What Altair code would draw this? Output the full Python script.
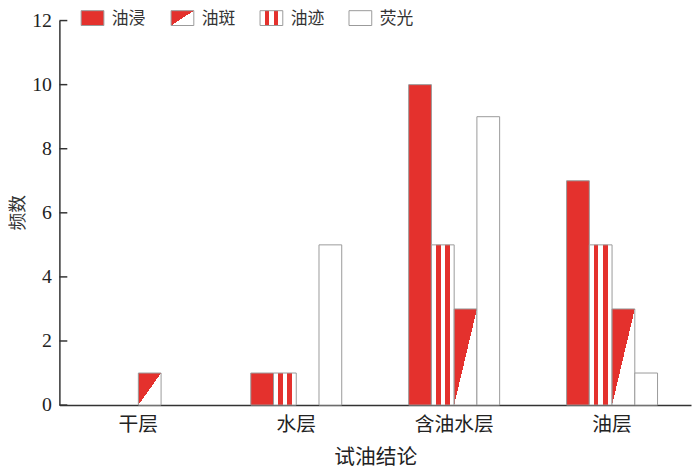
import altair as alt
import pandas as pd

categories = ["干层", "水层", "含油水层", "油层"]
series_legend = ["油浸", "油斑", "油迹", "荧光"]
series_order = ["油浸", "油迹", "油斑", "荧光"]  # order of bars inside each group
vals_youjin = [0, 1, 10, 7]
vals_youban = [1, 0, 3, 3]
vals_youji = [0, 1, 5, 5]
vals_yingguang = [0, 5, 9, 1]
y_ticks = [0, 2, 4, 6, 8, 10, 12]

RED = "#e4312d"
STROKE = "#9a9a9a"
FONT = "Liberation Serif, Noto Sans CJK SC"

series_values = {
    "油浸": vals_youjin,
    "油斑": vals_youban,
    "油迹": vals_youji,
    "荧光": vals_yingguang,
}
rows = []
for s, vs in series_values.items():
    for c, v in zip(categories, vs):
        rows.append({"cat": c, "series": s, "value": v})
df = pd.DataFrame(rows)

fills = {
    "油浸": RED,
    "油斑": alt.Gradient(
        gradient="linear", x1=0, y1=0, x2=1, y2=1,
        stops=[alt.GradientStop(color=RED, offset=0), alt.GradientStop(color=RED, offset=0.5),
               alt.GradientStop(color="white", offset=0.5), alt.GradientStop(color="white", offset=1)],
    ),
    "油迹": alt.Gradient(
        gradient="linear", x1=0, y1=0, x2=1, y2=0,
        stops=[alt.GradientStop(color="white", offset=0), alt.GradientStop(color="white", offset=0.2),
               alt.GradientStop(color=RED, offset=0.2), alt.GradientStop(color=RED, offset=0.4),
               alt.GradientStop(color="white", offset=0.4), alt.GradientStop(color="white", offset=0.6),
               alt.GradientStop(color=RED, offset=0.6), alt.GradientStop(color=RED, offset=0.8),
               alt.GradientStop(color="white", offset=0.8), alt.GradientStop(color="white", offset=1)],
    ),
    "荧光": "white",
}

x_enc = alt.X(
    "cat:N", sort=categories,
    scale=alt.Scale(domain=categories, paddingInner=0.424, paddingOuter=0.212),
    axis=alt.Axis(title="试油结论", ticks=False, domain=True, domainColor="#333333", domainWidth=1.5,
                  labelAngle=0, labelFont=FONT, labelFontSize=20, labelColor="#222222", labelPadding=10,
                  titleFont=FONT, titleFontSize=21, titleFontWeight="normal", titleColor="#222222",
                  titleY=53, titleBaseline="middle"),
)
y_scale = alt.Scale(domain=[0, 12], nice=False)
y_axis = alt.Axis(title="频数", values=y_ticks, ticks=False, grid=False, domain=True,
                  domainColor="#333333", domainWidth=1.5,
                  labelFont=FONT, labelFontSize=20, labelColor="#222222", labelPadding=8,
                  titleFont=FONT, titleFontSize=18, titleFontWeight="normal", titleColor="#333333",
                  titleX=-41, titleY=194, titleAlign="center", titleBaseline="middle")
y_enc = alt.Y("value:Q", scale=y_scale, axis=y_axis)
xoff = alt.XOffset("series:N", sort=series_order,
                   scale=alt.Scale(domain=series_order, paddingInner=0, paddingOuter=0))

base = alt.Chart(df)
layers = []
for s in series_order:
    layers.append(
        base.transform_filter((alt.datum.series == s) & (alt.datum.value > 0))
        .mark_bar(fill=fills[s], stroke=STROKE, strokeWidth=1)
        .encode(x=x_enc, y=y_enc, xOffset=xoff)
    )

# inward tick marks on the y axis
tick_df = pd.DataFrame({"value": y_ticks})
ticks = alt.Chart(tick_df).mark_rule(color="#333333", strokeWidth=1.5).encode(
    y=alt.Y("value:Q", scale=y_scale, axis=y_axis), x=alt.value(0), x2=alt.value(8)
)
layers.append(ticks)

# manual legend
legend_x = [22, 113, 203, 293]
for s, lx in zip(series_legend, legend_x):
    ldf = pd.DataFrame({"label": [s]})
    layers.append(
        alt.Chart(ldf).mark_rect(fill=fills[s], stroke=STROKE, strokeWidth=1).encode(
            x=alt.value(lx), x2=alt.value(lx + 23), y=alt.value(-10), y2=alt.value(5)
        )
    )
    layers.append(
        alt.Chart(ldf).mark_text(align="left", baseline="middle", font=FONT, fontSize=17,
                                 color="#333333").encode(
            x=alt.value(lx + 31), y=alt.value(-2), text="label:N"
        )
    )

chart = alt.layer(*layers).properties(
    width=639, height=389,
    autosize=alt.AutoSizeParams(type="none"),
    padding={"left": 52, "top": 10, "right": 1, "bottom": 65},
).configure_view(stroke=None)

chart.save("out.html", embed_options={"renderer": "svg", "actions": False})
